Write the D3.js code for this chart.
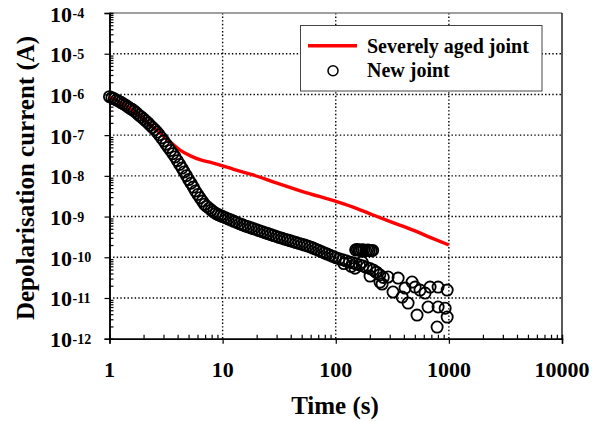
<!DOCTYPE html>
<html><head><meta charset="utf-8">
<script src="https://cdn.jsdelivr.net/npm/d3@7"></script>
<style>
body{margin:0;background:#fff}
svg{display:block}
</style>
</head><body>
<svg id="chart" width="600" height="421"></svg>
<script>
// ---- data ----
const seriesNames = ["Severely aged joint", "New joint"];
const xTickValues = [1, 10, 100, 1000, 10000];
const yTickExponents = [-4, -5, -6, -7, -8, -9, -10, -11, -12];

// Severely aged joint (red line)
const agedTime = [1, 1.6, 2.13, 2.8, 3.43, 4.2, 5.2, 6.3, 8.0, 9.5, 12.5, 18.6, 30.3, 51, 105, 150, 214, 300, 482, 700, 1000];
const agedCurrent = [8.8e-7, 4.1e-7, 2.13e-7, 1.13e-7, 6.8e-8, 4.3e-8, 3.1e-8, 2.5e-8, 2.1e-8, 1.84e-8, 1.45e-8, 1.05e-8, 6.6e-9, 4.1e-9, 2.27e-9, 1.62e-9, 1.09e-9, 7.6e-10, 4.66e-10, 3.0e-10, 2.0e-10];

// New joint (open circles)
const newTime = [
  1, 1.05, 1.1, 1.15, 1.2, 1.26, 1.32, 1.38, 1.45, 1.51, 1.58, 1.66, 1.74, 1.82, 1.91, 2.0, 2.09, 2.19, 2.29, 2.4,
  2.51, 2.63, 2.75, 2.88, 3.02, 3.16, 3.31, 3.47, 3.63, 3.8, 3.98, 4.17, 4.37, 4.57, 4.79, 5.01, 5.25, 5.5, 5.75, 6.03,
  6.31, 6.61, 6.92, 7.24, 7.59, 7.94, 8.32, 8.71, 9.12, 9.55, 10,
  10.6, 11.2, 11.9, 12.6, 13.3, 14.1, 15.0, 15.8, 16.8, 17.8, 18.8, 20.0, 21.1, 22.4, 23.7, 25.1, 26.6, 28.2, 29.9, 31.6,
  33.5, 35.5, 37.6, 39.8, 42.2, 44.7, 47.3, 50.1, 53.1, 56.2, 59.6, 63.1, 66.8, 70.8, 75.0, 79.4, 84.1, 89.1, 94.4, 100,
  107, 115, 123, 132, 141, 151, 162, 174, 186, 200, 214, 229, 245, 263,
  118, 137, 148, 171, 201, 227, 257,
  150, 155, 160, 165, 171, 177, 184, 191, 198, 206, 212,
  246, 290, 356, 321, 386, 436, 410, 473, 503, 556, 616, 682, 803, 966, 523, 655, 803, 927, 787, 966
];
const newCurrent = [
  8.8e-7, 8.3e-7, 7.8e-7, 7.3e-7, 6.9e-7, 6.4e-7, 5.9e-7, 5.5e-7, 5.0e-7, 4.6e-7, 4.3e-7, 3.9e-7, 3.5e-7, 3.1e-7, 2.8e-7, 2.5e-7, 2.24e-7, 1.99e-7, 1.75e-7, 1.54e-7,
  1.36e-7, 1.19e-7, 1.02e-7, 8.6e-8, 7.2e-8, 6.0e-8, 5.0e-8, 4.2e-8, 3.5e-8, 2.92e-8, 2.36e-8, 1.91e-8, 1.55e-8, 1.25e-8, 1.01e-8, 8.1e-9, 6.6e-9, 5.3e-9, 4.25e-9, 3.48e-9,
  2.89e-9, 2.4e-9, 2.0e-9, 1.77e-9, 1.6e-9, 1.44e-9, 1.3e-9, 1.19e-9, 1.12e-9, 1.06e-9, 1.0e-9,
  9.35e-10, 8.75e-10, 8.2e-10, 7.65e-10, 7.15e-10, 6.7e-10, 6.27e-10, 5.9e-10, 5.6e-10, 5.3e-10, 5.0e-10, 4.75e-10, 4.5e-10, 4.26e-10, 4.03e-10, 3.81e-10, 3.61e-10, 3.42e-10, 3.24e-10, 3.08e-10,
  2.93e-10, 2.79e-10, 2.66e-10, 2.54e-10, 2.42e-10, 2.3e-10, 2.19e-10, 2.09e-10, 1.99e-10, 1.9e-10, 1.8e-10, 1.68e-10, 1.57e-10, 1.47e-10, 1.37e-10, 1.28e-10, 1.2e-10, 1.12e-10, 1.05e-10, 9.8e-11,
  9.2e-11, 8.7e-11, 8.2e-11, 7.7e-11, 7.3e-11, 6.9e-11, 6.5e-11, 6.1e-11, 5.65e-11, 5.3e-11, 4.9e-11, 4.3e-11, 3.7e-11, 3.2e-11,
  7.0e-11, 6.0e-11, 5.4e-11, 7.6e-11, 3.45e-11, 4.3e-11, 2.2e-11,
  1.52e-10, 1.55e-10, 1.5e-10, 1.48e-10, 1.52e-10, 1.5e-10, 1.46e-10, 1.5e-10, 1.48e-10, 1.45e-10, 1.47e-10,
  2.46e-11, 3.27e-11, 3.08e-11, 1.4e-11, 1.05e-11, 7.5e-12, 1.75e-11, 2.46e-11, 1.85e-11, 1.56e-11, 1.32e-11, 1.85e-11, 1.85e-11, 1.56e-11, 3.8e-12, 6.0e-12, 6.0e-12, 5.6e-12, 1.93e-12, 3.4e-12
];

// ---- chart ----
const FONT = "'Liberation Serif', 'Times New Roman', Times, serif";
const svg = d3.select("#chart");
const L = 109.5, R = 562, T = 13, B = 338.7;
const x = d3.scaleLog().domain([1, 10000]).range([L, R]);
const y = d3.scaleLog().domain([1e-12, 1e-4]).range([B, T]);

function txt(sel) {
  return sel.style("font-family", FONT).style("font-weight", "bold").attr("fill", "#000");
}

// minor tick values
const xMinor = [], yMinor = [];
for (let e = 0; e < 4; e++) for (let k = 2; k <= 9; k++) xMinor.push(k * Math.pow(10, e));
for (let e = -12; e < -4; e++) for (let k = 2; k <= 9; k++) yMinor.push(k * Math.pow(10, e));

// gridlines
const grid = svg.append("g").attr("stroke", "#000").attr("stroke-width", 1.4).attr("stroke-dasharray", "1.4,2.2");
grid.selectAll("line.gx").data(xTickValues.slice(1, -1)).enter().append("line")
  .attr("x1", d => x(d)).attr("x2", d => x(d)).attr("y1", T).attr("y2", B);
grid.selectAll("line.gy").data(yTickExponents.slice(1, -1)).enter().append("line")
  .attr("y1", d => y(Math.pow(10, d))).attr("y2", d => y(Math.pow(10, d))).attr("x1", L).attr("x2", R);

// plot border (top grey, right black)
svg.append("line").attr("x1", L).attr("x2", R).attr("y1", T).attr("y2", T).attr("stroke", "#808080").attr("stroke-width", 1.5);
svg.append("line").attr("x1", R).attr("x2", R).attr("y1", T).attr("y2", B).attr("stroke", "#000").attr("stroke-width", 1.3);

// x axis
const xAxis = svg.append("g").attr("transform", `translate(0,${B})`)
  .call(d3.axisBottom(x).tickValues(xTickValues).tickSize(5).tickFormat(""));
const xMinorAxis = svg.append("g").attr("transform", `translate(0,${B})`)
  .call(d3.axisBottom(x).tickValues(xMinor).tickSize(-4).tickFormat(""));
[xAxis, xMinorAxis].forEach(g => {
  g.selectAll("path").attr("stroke", "#000").attr("stroke-width", 1.5);
  g.selectAll("line").attr("stroke", "#000").attr("stroke-width", 1.2);
});
txt(svg.append("g").selectAll("text").data(xTickValues).enter().append("text")
  .attr("x", d => x(d)).attr("y", 376.5).attr("text-anchor", "middle")
  .style("font-size", "22px").text(d => d3.format("d")(d)));

// y axis
const yAxis = svg.append("g").attr("transform", `translate(${L},0)`)
  .call(d3.axisLeft(y).tickValues(yTickExponents.map(e => Math.pow(10, e))).tickSize(5).tickFormat(""));
const yMinorAxis = svg.append("g").attr("transform", `translate(${L},0)`)
  .call(d3.axisLeft(y).tickValues(yMinor).tickSize(-4).tickFormat(""));
[yAxis, yMinorAxis].forEach(g => {
  g.selectAll("path").attr("stroke", "#000").attr("stroke-width", 1.5);
  g.selectAll("line").attr("stroke", "#000").attr("stroke-width", 1.2);
});
const yl = txt(svg.append("g").selectAll("text").data(yTickExponents).enter().append("text")
  .attr("x", 50).attr("y", d => y(Math.pow(10, d)) + 8.5).style("font-size", "22px"));
yl.append("tspan").text("10");
yl.append("tspan").attr("dy", -3.5).attr("dx", 0.5).style("font-size", "14px").text(d => String(d));

// axis titles
txt(svg.append("text").attr("x", 335).attr("y", 414).attr("text-anchor", "middle")
  .style("font-size", "25px").text("Time (s)"));
txt(svg.append("text").attr("transform", "translate(34,178) rotate(-90)").attr("text-anchor", "middle")
  .style("font-size", "25px").text("Depolarisation current (A)"));

// series
const agedData = agedTime.map((t, i) => [t, agedCurrent[i]]);
const newData = newTime.map((t, i) => [t, newCurrent[i]]);
svg.append("path").datum(agedData)
  .attr("fill", "none").attr("stroke", "#ff0000").attr("stroke-width", 3.4).attr("stroke-linejoin", "round")
  .attr("d", d3.line().curve(d3.curveMonotoneX).x(d => x(d[0])).y(d => y(d[1])));
svg.append("g").selectAll("circle").data(newData).enter().append("circle")
  .attr("cx", d => x(d[0])).attr("cy", d => y(d[1])).attr("r", 5.6)
  .attr("fill", "none").attr("stroke", "#000").attr("stroke-width", 1.8);

// legend
const lg = svg.append("g");
lg.append("rect").attr("x", 300.5).attr("y", 25.5).attr("width", 241.5).attr("height", 65.5)
  .attr("fill", "#fff").attr("stroke", "#444").attr("stroke-width", 1);
lg.append("line").attr("x1", 308).attr("x2", 357).attr("y1", 45.7).attr("y2", 45.7)
  .attr("stroke", "#ff0000").attr("stroke-width", 3.4);
lg.append("circle").attr("cx", 333).attr("cy", 70.7).attr("r", 5)
  .attr("fill", "none").attr("stroke", "#000").attr("stroke-width", 1.5);
txt(lg.selectAll("text").data(seriesNames).enter().append("text")
  .attr("x", 367).attr("y", (d, i) => 53 + i * 23.5).style("font-size", "20px").text(d => d));
</script>
</body></html>
